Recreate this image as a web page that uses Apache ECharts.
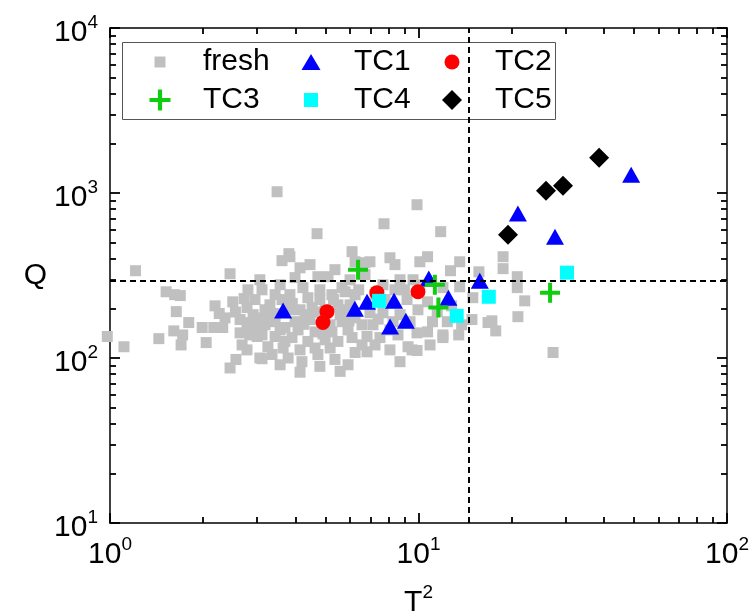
<!DOCTYPE html>
<html>
<head>
<meta charset="utf-8">
<script src="https://cdn.jsdelivr.net/npm/echarts@6/dist/echarts.min.js"></script>
<style>
  html, body { margin: 0; padding: 0; background: #fff; }
  #chart { width: 753px; height: 615px; }
</style>
</head>
<body>
<div id="chart"></div>
<script>
const FONT = '"Liberation Sans", Arial, sans-serif';

// [T^2, Q] pairs
const fresh = [
  [0.98,135],[1.11,117],[1.21,338],[1.52,252],[1.62,242],[1.69,239],[1.64,191],[1.80,164],
  [1.61,146],[1.72,138],[1.70,120],[1.44,131],[2.19,207],[2.26,186],[2.36,175],[1.99,153],
  [2.17,153],[2.32,153],[2.05,124],[2.45,324],[2.50,219],[2.72,229],[2.78,202],[2.64,142],
  [2.68,120],[2.78,164],[2.56,98],[2.45,87],[2.91,183],[2.84,138],[3.00,135],[2.78,112],
  [2.64,171],[2.84,159],[3.48,1018],[4.69,567],[3.80,429],[3.61,389],[6.09,441],[6.71,378],
  [4.13,82],[3.11,99],[9.89,849],[7.73,651],[11.8,583],[8.08,405],[8.39,368],[10.7,411],
  [10.1,383],[13.6,383],[12.7,338],[15.7,333],[18.8,411],[18.8,348],[20.9,311],[20.9,267],
  [22.1,222],[21.0,178],[17.3,168],[17.8,146],[27.3,108],[14.9,171],[13.5,138],[12.0,133],
  [9.53,112],[9.89,111],[8.71,95],[8.08,112],[3.83,411],[4.72,311],[5.09,311],[3.98,307],
  [6.23,383],[5.65,267],[4.38,232],[3.18,196],[3.06,175],[3.98,166],[3.43,166],[5.65,166],
  [3.11,138],[3.43,135],[3.89,133],[4.38,126],[4.98,129],[5.48,126],[6.09,133],[3.06,100],
  [3.35,105],[3.78,100],[4.19,95],[4.72,105],[5.36,98],[5.91,91],[3.25,117],[3.64,115],
  [4.62,115],[5.17,115],[6.23,108],[3.25,183],[3.69,153],[4.29,183],[5.48,210],[6.23,242],
  [4.22,267],[5.24,242],[4.62,144],[5.24,144],[5.91,148],[6.56,159],[6.56,120],[6.96,383],
  [6.71,320],[8.71,298],[9.60,298],[7.67,278],[12.0,267],[13.6,270],[9.18,226],[10.7,219],
  [6.96,188],[7.67,188],[9.96,196],[11.1,166],[12.4,166],[13.8,159],[7.12,159],[6.81,135],
  [7.50,133],[9.89,142],[10.7,144],[12.0,138],[6.81,109],[9.25,117],[15.0,232],[16.8,164],
  [3.61,226],[3.83,196],[3.43,242],[4.79,259],[5.78,196],[4.52,202],[4.07,148],[4.87,166],
  [6.23,175],[6.00,298],[5.36,343],[4.45,368],[4.13,352],[3.56,278],[3.11,259],[2.95,226],
  [3.30,210],[4.98,196],[3.69,126],[4.13,112],[8.27,166],[8.58,138],[7.79,226],[7.23,242],
  [8.71,183],[9.39,166],[11.5,191],[12.8,207],[10.9,120],[8.39,259],[3.06,298],[2.80,259],
  [4.79,89],[3.56,91],[5.57,83],[3.83,242],[4.45,171],[5.17,159],[5.78,252],[4.79,226],
  [4.13,196],[5.57,183],[3.56,148],[3.18,159],[6.00,210],[6.40,259],[7.23,120],[8.08,148],
  [9.00,259],[10.1,278],[3.90,214],[4.60,190],[5.30,226],[2.55,190],[3.40,186],[4.90,140],
  [5.95,168],[7.40,172],[3.00,154],[4.25,160]
];
const tc1 = [
  [3.64,194],[6.22,199],[6.81,219],[8.33,222],[8.09,155],[9.10,168],
  [10.8,303],[12.5,232],[15.8,294],[21.0,750],[27.7,544],[48.9,1291]
];
const tc2 = [[5.05,191],[4.90,164],[7.33,249],[9.96,252]];
const tc3 = [[6.37,343],[11.3,278],[11.6,202],[26.7,249]];
const tc4 = [[7.45,222],[13.3,180],[16.9,235],[30.3,329]];
const tc5 = [[19.5,559],[25.9,1033],[29.4,1107],[38.5,1637]];

// dashed threshold lines
const thresholdT2 = 14.6;
const thresholdQ = 292;

// decade ticks with their exponents, and minor ticks
const xTicks = [1, 10, 100];
const xTickExp = ['0', '1', '2'];
const yTicks = [10, 100, 1000, 10000];
const yTickExp = ['1', '2', '3', '4'];
const xMinorTicks = [2, 3, 4, 5, 6, 7, 8, 9, 20, 30, 40, 50, 60, 70, 80, 90];
const yMinorTicks = [20, 30, 40, 50, 60, 70, 80, 90, 200, 300, 400, 500, 600, 700, 800, 900,
  2000, 3000, 4000, 5000, 6000, 7000, 8000, 9000];

const PLUS = 'path://M4,0H6V4H10V6H6V10H4V6H0V4H4Z';

const rich = {
  b: { fontFamily: FONT, fontSize: 30, lineHeight: 30, color: '#000', padding: [9, 0, 0, 0] },
  s: { fontFamily: FONT, fontSize: 19, lineHeight: 20, color: '#000', verticalAlign: 'top' }
};

function powLabel(ticks, exps) {
  return function (v) {
    for (let i = 0; i < ticks.length; i++) {
      if (Math.abs(Math.log10(v) - Math.log10(ticks[i])) < 1e-6) {
        return '{b|10}{s|' + exps[i] + '}';
      }
    }
    return '';
  };
}

function logAxis(gridIndex, min, max, position, tickLen, customTicks) {
  const ax = {
    gridIndex: gridIndex,
    type: 'log',
    logBase: 10,
    min: min,
    max: max,
    position: position,
    axisLine: { show: gridIndex === 0, onZero: false, lineStyle: { color: '#000', width: 1.5 } },
    axisTick: { show: true, inside: true, length: tickLen, lineStyle: { color: '#000', width: 1.8 } },
    splitLine: { show: false },
    axisLabel: { show: false }
  };
  if (customTicks) ax.axisTick.customValues = customTicks;
  return ax;
}

const xMain = logAxis(0, 1, 100, 'bottom', 10);
xMain.axisLabel = { show: true, margin: 12, formatter: powLabel(xTicks, xTickExp), rich: rich };
xMain.name = '{b|T}{s|2}';
xMain.nameLocation = 'middle';
xMain.nameGap = 60;
xMain.nameTextStyle = { rich: rich };

const yMain = logAxis(0, 10, 10000, 'left', 10);
yMain.axisLabel = { show: true, margin: 12, formatter: powLabel(yTicks, yTickExp), rich: rich };
yMain.name = 'Q';
yMain.nameLocation = 'middle';
yMain.nameRotate = 0;
yMain.nameGap = 63;
yMain.nameTextStyle = { fontFamily: FONT, fontSize: 30, color: '#000' };

function scatter(name, data, symbol, size, color) {
  return {
    name: name,
    type: 'scatter',
    data: data,
    symbol: symbol,
    symbolSize: size,
    clip: false,
    itemStyle: { color: color, opacity: 1 },
    emphasis: { disabled: true },
    animation: false
  };
}

const series = [
  scatter('fresh', fresh, 'rect', 11, '#c0c0c0'),
  scatter('TC1', tc1, 'triangle', [18, 16], '#0000ff'),
  scatter('TC2', tc2, 'circle', 15, '#ff0000'),
  scatter('TC3', tc3, PLUS, 20, '#11cc11'),
  scatter('TC4', tc4, 'rect', 14, '#00ffff'),
  scatter('TC5', tc5, 'diamond', 20, '#000000')
];
series[0].markLine = {
  silent: true,
  symbol: 'none',
  animation: false,
  label: { show: false },
  lineStyle: { color: '#000', width: 2, type: [6, 4] },
  data: [{ xAxis: thresholdT2 }, { yAxis: thresholdQ }]
};

// legend cells: symbol centre, icon size, text start
const cells = [
  { name: 'fresh', cx: 160, cy: 62, w: 11, h: 11, tx: 203 },
  { name: 'TC1', cx: 311, cy: 62, w: 19, h: 16, tx: 354 },
  { name: 'TC2', cx: 452, cy: 62, w: 15, h: 15, tx: 495 },
  { name: 'TC3', cx: 160, cy: 100, w: 21, h: 21, tx: 203 },
  { name: 'TC4', cx: 311, cy: 100, w: 14, h: 14, tx: 354 },
  { name: 'TC5', cx: 452, cy: 100, w: 20, h: 20, tx: 495 }
];
const legends = cells.map(c => ({
  data: [c.name],
  left: c.cx - c.w / 2,
  top: c.cy - 15,
  padding: 0,
  itemWidth: c.w,
  itemHeight: c.h,
  selectedMode: false,
  z: 5,
  textStyle: {
    fontFamily: FONT, fontSize: 30, color: '#000',
    padding: [0, 0, 0, c.tx - c.cx - c.w / 2 - 5]
  }
}));

const gridRect = { left: 110, right: 26, top: 28, bottom: 92, containLabel: false, outerBoundsMode: 'none' };

const chart = echarts.init(document.getElementById('chart'), null, { renderer: 'canvas' });
chart.setOption({
  backgroundColor: '#fff',
  animation: false,
  textStyle: { fontFamily: FONT },
  grid: [gridRect, Object.assign({}, gridRect)],
  xAxis: [
    xMain,
    logAxis(0, 1, 100, 'top', 10),
    logAxis(1, 1, 100, 'bottom', 6, xMinorTicks),
    logAxis(1, 1, 100, 'top', 6, xMinorTicks)
  ],
  yAxis: [
    yMain,
    logAxis(0, 10, 10000, 'right', 10),
    logAxis(1, 10, 10000, 'left', 6, yMinorTicks),
    logAxis(1, 10, 10000, 'right', 6, yMinorTicks)
  ],
  legend: legends,
  graphic: [{
    type: 'rect',
    z: 3,
    shape: { x: 122.5, y: 42.5, width: 433, height: 77 },
    style: { fill: '#fff', stroke: '#555', lineWidth: 1 }
  }],
  series: series
});
window.addEventListener('resize', () => chart.resize());
</script>
</body>
</html>
